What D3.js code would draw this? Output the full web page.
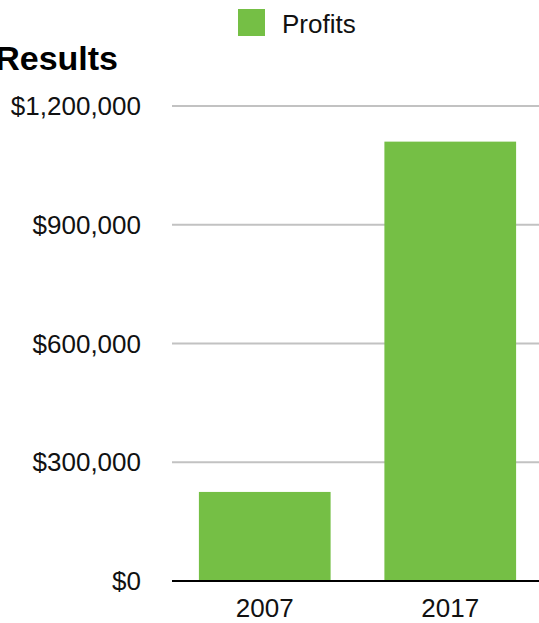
<!DOCTYPE html>
<html>
<head>
<meta charset="utf-8">
<script src="https://cdn.jsdelivr.net/npm/d3@7"></script>
<style>
  html, body { margin: 0; padding: 0; background: #fff; overflow: hidden; }
  svg { display: block; font-family: "Liberation Sans", Arial, Helvetica, sans-serif; }
</style>
</head>
<body>
<svg id="chart" width="539" height="623"></svg>
<script>
const categories = ["2007", "2017"];
const profits = [225000, 1110000];
const yTicks = [0, 300000, 600000, 900000, 1200000];
const seriesName = "Profits";
const title = "Results";

(function () {
const svg = d3.select("#chart");
const W = 539;
const plotLeft = 172, plotRight = 543, plotTop = 106, plotBottom = 581;
const green = "#75bf45";

const x = d3.scaleBand().domain(categories).range([plotLeft, plotRight])
  .paddingInner(0.29).paddingOuter(0.145);
const y = d3.scaleLinear().domain([0, 1200000]).range([plotBottom, plotTop]);

const fmt = v => "$" + d3.format(",")(v);

// gridlines
svg.append("g").selectAll("line").data(yTicks.filter(d => d > 0)).join("line")
  .attr("x1", plotLeft).attr("x2", W)
  .attr("y1", d => y(d)).attr("y2", d => y(d))
  .attr("stroke", "#c2c2c2").attr("stroke-width", 2);

// y tick labels
svg.append("g").selectAll("text").data(yTicks).join("text")
  .attr("x", 141).attr("y", d => y(d))
  .attr("dy", "0.35em")
  .attr("text-anchor", "end")
  .attr("font-size", 26)
  .attr("fill", "#111")
  .text(fmt);

// bars
svg.append("g").selectAll("rect").data(categories).join("rect")
  .attr("x", d => x(d))
  .attr("width", x.bandwidth())
  .attr("y", (d, i) => y(profits[i]))
  .attr("height", (d, i) => y(0) - y(profits[i]))
  .attr("fill", green);

// baseline
svg.append("line")
  .attr("x1", plotLeft).attr("x2", W)
  .attr("y1", y(0)).attr("y2", y(0))
  .attr("stroke", "#000").attr("stroke-width", 2);

// x labels
svg.append("g").selectAll("text").data(categories).join("text")
  .attr("x", d => x(d) + x.bandwidth() / 2)
  .attr("y", 617)
  .attr("text-anchor", "middle")
  .attr("font-size", 26)
  .attr("fill", "#111")
  .text(d => d);

// title (cut at the left edge, as in the reference)
svg.append("text")
  .attr("x", 118).attr("y", 70)
  .attr("text-anchor", "end")
  .attr("font-size", 34)
  .attr("font-weight", "bold")
  .attr("fill", "#000")
  .text(title);

// legend
svg.append("rect").attr("x", 238).attr("y", 9).attr("width", 27).attr("height", 27).attr("fill", green);
svg.append("text").attr("x", 282).attr("y", 33)
  .attr("font-size", 26).attr("fill", "#111").text(seriesName);
})();
</script>
</body>
</html>
